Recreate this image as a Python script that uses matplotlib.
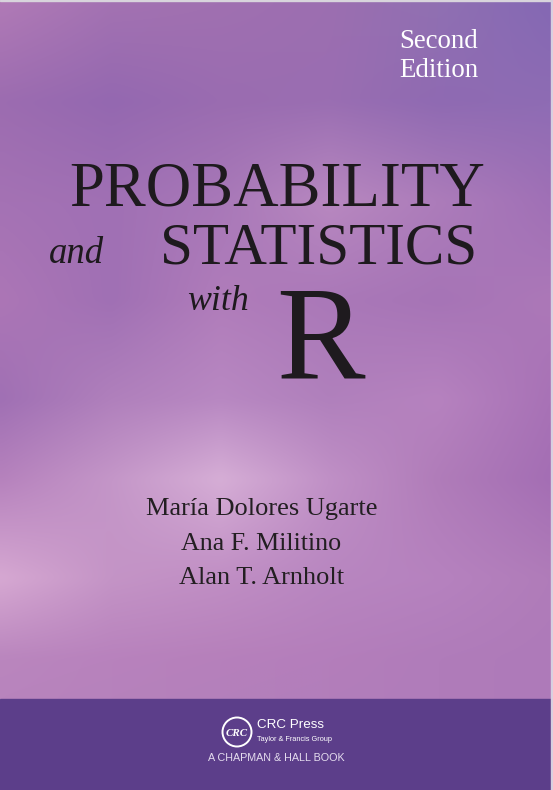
import numpy as np
import matplotlib.pyplot as plt
from matplotlib.colors import to_rgb
from matplotlib.patches import Rectangle, Circle

W, H = 553, 790
BAND_TOP = 699

# background colour samples, rows top to bottom, columns left to right
BG_ROWS_Y = [0, 100, 200, 300, 400, 480, 580, 660, 699]
BG_COLS_X = [0, 110, 220, 330, 440, 553]
BG_COLORS = [
    ["#b07ab6", "#a372b2", "#a070b0", "#9c6eb0", "#9070b2", "#8468b4"],
    ["#9c6cb0", "#9468b0", "#9a6cb0", "#9a6eb2", "#8f6ab2", "#8e6cb4"],
    ["#a472b4", "#a070b4", "#a878b8", "#b888c0", "#ac7cba", "#a070b6"],
    ["#ac76b6", "#a070b4", "#b07cba", "#aa78b8", "#a674b6", "#ac78b8"],
    ["#a070b4", "#b080bc", "#b888c2", "#b080bc", "#b682bf", "#a872b6"],
    ["#b682bd", "#c496c8", "#d6aed6", "#c090c6", "#b07cb9", "#a46eb4"],
    ["#d6a8d2", "#c494c6", "#c08ec4", "#b886c0", "#b682bf", "#b07cb9"],
    ["#ba86be", "#b882bd", "#b680bb", "#b47ebb", "#b07cba", "#ae7ab9"],
    ["#b884bd", "#b682bc", "#b480bb", "#b27ebb", "#b07cba", "#ae7ab9"],
]
BAND_COLOR = "#5c3e8a"

# (text, centre x, baseline y, ink width, cap / x height)
EDITION = [("Second", 48), ("Edition", 77)]
TITLE = [
    ("PROBABILITY", 277.5, 205, 445, 40),
    ("STATISTICS", 318.5, 263, 373, 36),
]
BIG_R = ("R", 320, 377, 87)
TITLE_ITALIC = [
    ("and", 76.5, 263, 63, 16),
    ("with", 218, 310, 72, 23),
]
AUTHORS = ["María Dolores Ugarte", "Ana F. Militino", "Alan T. Arnholt"]
AUTHOR_Y = [515, 550, 584]
AUTHOR_W = [243, 162, 173]

SERIF = ["Liberation Serif", "DejaVu Serif"]
SANS = ["Liberation Sans", "DejaVu Sans"]
CAP = 0.655      # cap height of Liberation Serif, in em
XH = 0.46        # x height, italic
ASC = 0.683      # ascender, italic

fig = plt.figure(figsize=(W / 100, H / 100), dpi=100)
ax = fig.add_axes([0, 0, 1, 1])
ax.set_xlim(0, W)
ax.set_ylim(H, 0)
ax.axis("off")

# smooth background built from the sampled grid
grid = np.array([[to_rgb(c) for c in row] for row in BG_COLORS])
ys = np.linspace(0, BAND_TOP, 140)
xs = np.linspace(0, W, 111)
img = np.zeros((len(ys), len(xs), 3))
for ch in range(3):
    tmp = np.array([np.interp(xs, BG_COLS_X, grid[r, :, ch]) for r in range(len(BG_ROWS_Y))])
    for j in range(len(xs)):
        img[:, j, ch] = np.interp(ys, BG_ROWS_Y, tmp[:, j])
ax.imshow(img, extent=[0, W, BAND_TOP, 0], interpolation="bicubic", aspect="auto", zorder=0)

ax.add_patch(Rectangle((0, BAND_TOP), W, H - BAND_TOP, color=BAND_COLOR, zorder=1))
# thin light edges of the scan
ax.add_patch(Rectangle((0, 0), W, 1.2, color="#d8d4dc", zorder=2))
ax.add_patch(Rectangle((W - 2, 0), 2, H, color="#d8d0e0", zorder=2))

renderer = fig.canvas.get_renderer()


def fit(t, width, height=None, ratio=CAP, wt=0.3):
    # size from width, then blend with size from glyph height
    fs = t.get_fontsize()
    for _ in range(3):
        w = t.get_window_extent(renderer).width
        fs = fs * width / w
        t.set_fontsize(fs)
    if height is not None:
        fs_h = height / ratio * 0.72
        t.set_fontsize(fs ** wt * fs_h ** (1 - wt))
    return t


# edition
ed = []
for s, y in EDITION:
    ed.append(ax.text(478, y, s, ha="right", va="baseline", color="white",
                      family=SERIF, fontsize=20, zorder=3))
fit(ed[0], 86, 17)
ed[1].set_fontsize(ed[0].get_fontsize())

for s, x, y, w, h in TITLE:
    t = ax.text(x, y, s, ha="center", va="baseline", color="#1e1a1e",
                family=SERIF, fontsize=40, zorder=3)
    fit(t, w, h)

s, x, y, h = BIG_R
ax.text(x, y, s, ha="center", va="baseline", color="#1e1a1e",
        family=SERIF, fontsize=h / CAP * 0.72, zorder=3)

for (s, x, y, w, h), r in zip(TITLE_ITALIC, [XH, ASC]):
    t = ax.text(x, y, s, ha="center", va="baseline", color="#1e1a1e",
                family=SERIF, style="italic", fontsize=24, zorder=3)
    fit(t, w, h, r)

for s, y, w in zip(AUTHORS, AUTHOR_Y, AUTHOR_W):
    t = ax.text(261.5, y, s, ha="center", va="baseline", color="#231f22",
                family=SERIF, fontsize=18, zorder=3)
    fit(t, w, 17)

# publisher block
ax.add_patch(Circle((237, 732), 14.5, fill=False, ec="white", lw=1.4, zorder=3))
t = ax.text(237, 736.5, "CRC", ha="center", va="baseline", color="white",
            family=SERIF, weight="bold", style="italic", fontsize=9, zorder=3)
fit(t, 22)
t = ax.text(257, 728, "CRC Press", ha="left", va="baseline", color="white",
            family=SANS, fontsize=10, zorder=3)
fit(t, 67)
t = ax.text(257, 741, "Taylor & Francis Group", ha="left", va="baseline", color="white",
            family=SANS, fontsize=5, zorder=3)
fit(t, 75)
t = ax.text(276.5, 761, "A CHAPMAN & HALL BOOK", ha="center", va="baseline", color="#e4dcee",
            family=SANS, fontsize=6, zorder=3)
fit(t, 137)

fig.savefig("out.png", dpi=100)
